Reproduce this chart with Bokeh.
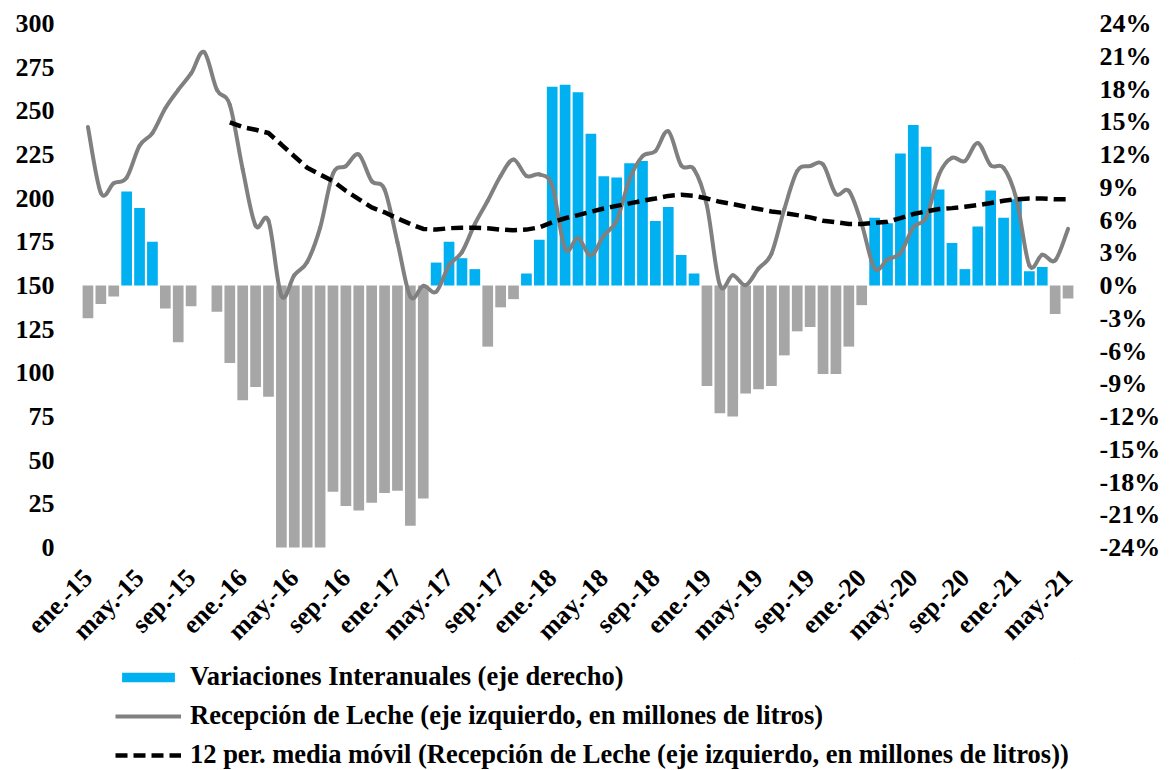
import math
import numpy as np
from bokeh.plotting import figure
from bokeh.layouts import column
from bokeh.models import Range1d, LinearAxis, FixedTicker, Legend, LegendItem, ColumnDataSource
from bokeh.embed import file_html
from bokeh.resources import INLINE

# ---------------- data ----------------
tick_labels = ["ene.-15", "may.-15", "sep.-15", "ene.-16", "may.-16", "sep.-16",
               "ene.-17", "may.-17", "sep.-17", "ene.-18", "may.-18", "sep.-18",
               "ene.-19", "may.-19", "sep.-19", "ene.-20", "may.-20", "sep.-20",
               "ene.-21", "may.-21"]

# variaciones interanuales (%), ene-15 .. may-21
variacion = [-3.0, -1.7, -1.0, 8.6, 7.1, 4.0, -2.1, -5.2, -1.9, 0.0, -2.4, -7.1,
             -10.5, -9.3, -10.2, -37.0, -34.0, -35.0, -30.0, -18.9, -20.2, -20.6, -19.9, -19.0,
             -18.8, -22.0, -19.5, 2.1, 4.0, 2.5, 1.5, -5.6, -2.0, -1.25, 1.1, 4.2,
             18.2, 18.4, 17.7, 13.9, 10.0, 9.9, 11.2, 11.4, 5.9, 7.2, 2.8, 1.1,
             -9.2, -11.7, -12.0, -9.9, -9.5, -9.2, -6.4, -4.2, -3.8, -8.1, -8.1, -5.6,
             -1.8, 6.2, 5.7, 12.1, 14.7, 12.7, 8.8, 3.9, 1.5, 5.4, 8.7, 6.2,
             7.9, 1.3, 1.7, -2.6, -1.2]

# recepcion de leche (millones de litros)
leche = [240.7, 203.0, 208.5, 211.7, 230.0, 237.3, 251.5, 262.0, 271.4, 283.7, 262.0, 253.4,
         216.5, 184.3, 187.1, 144.0, 155.9, 163.5, 183.0, 214.0, 218.4, 225.0, 209.8, 205.0,
         174.8, 143.6, 149.8, 146.4, 161.5, 169.1, 185.2, 198.5, 212.7, 222.2, 212.7, 213.6,
         207.0, 171.0, 177.1, 167.2, 178.6, 187.1, 210.8, 224.0, 226.9, 238.3, 218.8, 216.5,
         195.6, 150.2, 155.9, 150.2, 159.7, 168.2, 193.8, 215.5, 218.4, 219.3, 202.3, 204.2,
         185.2, 159.7, 164.9, 168.6, 183.3, 189.0, 213.6, 223.1, 221.2, 231.6, 218.8, 217.4,
         199.4, 161.5, 167.6, 164.4, 182.4]

# 12 per. media movil
media_movil = [None] * 11 + [
    243.4, 240.7, 239.2, 237.3, 230.7, 224.0, 217.4, 213.5, 209.8, 204.2, 199.4, 194.7,
    191.9, 188.4, 185.2, 182.4, 182.0, 182.8, 183.1, 183.1, 182.8, 182.0, 181.6, 182.0,
    183.3, 186.2, 188.5, 190.3, 192.2, 194.1, 195.6, 197.0, 198.5, 199.8, 201.3, 201.9,
    201.3, 199.8, 197.9, 196.6, 195.1, 193.8, 192.4, 191.5, 190.3, 189.0, 187.1, 186.2,
    185.2, 185.2, 185.8, 186.5, 188.6, 190.9, 192.4, 193.8, 194.3, 195.1, 196.0, 197.2,
    198.5, 199.4, 199.8, 199.8, 199.4, 199.4]

left_ticks = list(range(0, 301, 25))
right_ticks = list(range(-24, 25, 3))

legend_labels = ["Variaciones Interanuales (eje derecho)",
                 "Recepción de Leche (eje izquierdo, en millones de litros)",
                 "12 per. media móvil (Recepción de Leche (eje izquierdo, en millones de litros))"]

# ---------------- styles ----------------
BLUE = "#00B0F0"
GREY_BAR = "#A6A6A6"
GREY_LINE = "#808080"
FONT = "Liberation Serif"
TICK_SIZE = "26px"

n = len(leche)
xs = np.arange(n, dtype=float)

p = figure(width=1170, height=658, output_backend="svg", toolbar_location=None,
           x_range=Range1d(-0.5, n - 0.5), y_range=Range1d(0, 300),
           min_border_left=81, min_border_right=96, min_border_top=23, min_border_bottom=105)
p.extra_y_ranges = {"pct": Range1d(-24, 24)}
p.outline_line_color = None
p.xgrid.grid_line_color = None
p.ygrid.grid_line_color = None

# bars
pos_idx = [i for i, v in enumerate(variacion) if v >= 0]
neg_idx = [i for i, v in enumerate(variacion) if v < 0]
src_pos = ColumnDataSource(dict(x=[xs[i] for i in pos_idx], top=[variacion[i] for i in pos_idx]))
src_neg = ColumnDataSource(dict(x=[xs[i] for i in neg_idx], top=[variacion[i] for i in neg_idx]))
p.vbar(x="x", top="top", bottom=0, width=0.83, source=src_pos, y_range_name="pct",
       fill_color=BLUE, line_color=None)
p.vbar(x="x", top="top", bottom=0, width=0.83, source=src_neg, y_range_name="pct",
       fill_color=GREY_BAR, line_color=None)

# smooth line (bezier segments through the data points)
y = np.array(leche, dtype=float)
x0, y0, x1, y1, cx0, cy0, cx1, cy1 = [], [], [], [], [], [], [], []
for i in range(n - 1):
    im1 = max(i - 1, 0)
    ip2 = min(i + 2, n - 1)
    x0.append(xs[i]); y0.append(y[i]); x1.append(xs[i + 1]); y1.append(y[i + 1])
    cx0.append(xs[i] + (xs[i + 1] - xs[im1]) / 6.0)
    cy0.append(y[i] + (y[i + 1] - y[im1]) / 6.0)
    cx1.append(xs[i + 1] - (xs[ip2] - xs[i]) / 6.0)
    cy1.append(y[i + 1] - (y[ip2] - y[i]) / 6.0)
src_bez = ColumnDataSource(dict(x0=x0, y0=y0, x1=x1, y1=y1, cx0=cx0, cy0=cy0, cx1=cx1, cy1=cy1))
p.bezier(x0="x0", y0="y0", x1="x1", y1="y1", cx0="cx0", cy0="cy0", cx1="cx1", cy1="cy1",
         source=src_bez, line_color=GREY_LINE, line_width=4, line_cap="round")

mm = [float("nan") if v is None else v for v in media_movil]
p.line(xs, mm, line_color="black", line_width=4.5, line_dash="12 6")

# axes
for ax in [p.yaxis[0], p.xaxis[0]]:
    ax.axis_line_color = None
    ax.major_tick_line_color = None
    ax.minor_tick_line_color = None
    ax.major_label_text_font = FONT
    ax.major_label_text_font_style = "bold"
    ax.major_label_text_font_size = TICK_SIZE
    ax.major_label_text_color = "black"

p.yaxis[0].ticker = FixedTicker(ticks=left_ticks)
p.yaxis[0].major_label_standoff = 21

xticks = [4 * k for k in range(len(tick_labels))]
p.xaxis[0].ticker = FixedTicker(ticks=xticks)
p.xaxis[0].major_label_overrides = {t: lab for t, lab in zip(xticks, tick_labels)}
p.xaxis[0].major_label_orientation = math.pi / 4
p.xaxis[0].major_label_standoff = 20

right = LinearAxis(y_range_name="pct", ticker=FixedTicker(ticks=right_ticks),
                   major_label_overrides={t: f"{t}%" for t in right_ticks})
right.axis_line_color = None
right.major_tick_line_color = None
right.minor_tick_line_color = None
right.major_label_text_font = FONT
right.major_label_text_font_style = "bold"
right.major_label_text_font_size = TICK_SIZE
right.major_label_text_color = "black"
right.major_label_standoff = 19
p.add_layout(right, "right")

# ---------------- legend (separate strip below the chart) ----------------
pl = figure(width=1170, height=112, output_backend="svg", toolbar_location=None,
            x_range=Range1d(0, 1), y_range=Range1d(0, 1),
            min_border=0, min_border_left=0, min_border_right=0,
            min_border_top=0, min_border_bottom=0)
pl.axis.visible = False
pl.grid.visible = False
pl.outline_line_color = None
# key glyphs only (their points lie outside the visible range)
keysrc = ColumnDataSource(dict(x=[5.0, 6.0], top=[5.0, 6.0], y=[5.0, 6.0]))
g_bar = pl.vbar(x="x", top="top", bottom=4.0, width=0.5, source=keysrc, fill_color=BLUE, line_color=None)
g_line = pl.line(x="x", y="y", source=keysrc, line_color=GREY_LINE, line_width=4)
g_ma = pl.line(x="x", y="y", source=keysrc, line_color="black", line_width=4.5, line_dash="12 6")

legend = Legend(items=[
    LegendItem(label=legend_labels[0], renderers=[g_bar], index=0),
    LegendItem(label=legend_labels[1], renderers=[g_line]),
    LegendItem(label=legend_labels[2], renderers=[g_ma]),
], location=(34, 0), orientation="vertical")
legend.label_text_font = FONT
legend.label_text_font_style = "bold"
legend.label_text_font_size = "26.5px"
legend.label_text_color = "black"
legend.label_standoff = 9
legend.glyph_width = 66
legend.glyph_height = 12
legend.spacing = 8
legend.padding = 0
legend.margin = 0
legend.border_line_color = None
legend.background_fill_alpha = 0
pl.add_layout(legend, "center")

layout = column(p, pl, spacing=0)
open("out.html", "w").write(file_html(layout, INLINE))
